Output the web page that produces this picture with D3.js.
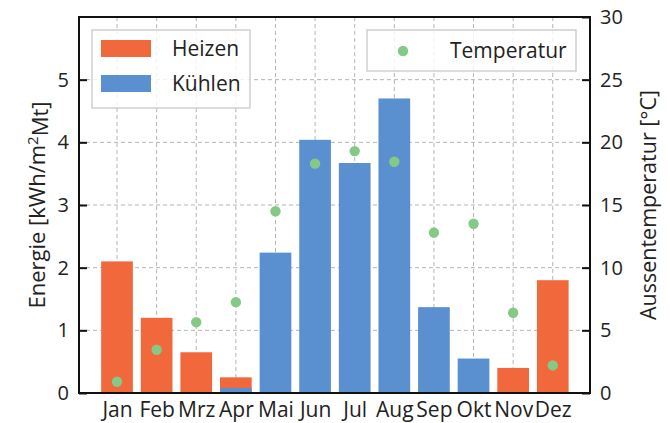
<!DOCTYPE html>
<html>
<head>
<meta charset="utf-8">
<script src="https://cdn.jsdelivr.net/npm/d3@7"></script>
<style>
  body { margin: 0; background: #fff; }
  text { font-family: "Open Sans", sans-serif; fill: #222; }
</style>
</head>
<body>
<div id="chart"></div>
<script>
"use strict";

/* chart data */
const months   = ["Jan", "Feb", "Mrz", "Apr", "Mai", "Jun", "Jul", "Aug", "Sep", "Okt", "Nov", "Dez"];
const heizen   = [2.1, 1.2, 0.65, 0.25, 0, 0, 0, 0, 0, 0, 0.4, 1.8];
const kuehlen  = [0, 0, 0, 0.08, 2.24, 4.04, 3.67, 4.7, 1.37, 0.55, 0, 0];
const temperatur = [0.9, 3.45, 5.65, 7.25, 14.5, 18.3, 19.3, 18.45, 12.8, 13.5, 6.4, 2.2];
const energyTicks = [0, 1, 2, 3, 4, 5];
const tempTicks   = [0, 5, 10, 15, 20, 25, 30];

const width = 670, height = 423;
const margin = { left: 79, right: 80, top: 17, bottom: 30 };
const plotRight = width - margin.right;
const plotBottom = height - margin.bottom;

const colHeizen = "#f0683c", colKuehlen = "#5b90d0", colTemp = "#86c986";

const svg = d3.select("#chart").append("svg")
  .attr("width", width)
  .attr("height", height);

/* scales */
const x = d3.scaleLinear()
  .domain([-0.96, 11.94])
  .range([margin.left, plotRight]);
const barWidth = (x(1) - x(0)) * 0.8;

const yLeft = d3.scaleLinear().domain([0, 6]).range([plotBottom, margin.top]);
const yRight = d3.scaleLinear().domain([0, 30]).range([plotBottom, margin.top]);

/* grid */
const grid = svg.append("g")
  .attr("stroke", "#b5b5b5")
  .attr("stroke-width", 1)
  .attr("stroke-dasharray", "4,3");

grid.selectAll(".vgrid")
  .data(months)
  .enter().append("line")
  .attr("x1", (d, i) => x(i)).attr("x2", (d, i) => x(i))
  .attr("y1", margin.top).attr("y2", plotBottom);

grid.selectAll(".hgrid")
  .data(energyTicks.slice(1))
  .enter().append("line")
  .attr("x1", margin.left).attr("x2", plotRight)
  .attr("y1", d => yLeft(d)).attr("y2", d => yLeft(d));

/* bars */
svg.selectAll(".heizen")
  .data(heizen)
  .enter().append("rect")
  .attr("class", "heizen")
  .attr("x", (d, i) => x(i) - barWidth / 2)
  .attr("y", d => yLeft(d))
  .attr("width", barWidth)
  .attr("height", d => plotBottom - yLeft(d))
  .attr("fill", colHeizen);

svg.selectAll(".kuehlen")
  .data(kuehlen)
  .enter().append("rect")
  .attr("class", "kuehlen")
  .attr("x", (d, i) => x(i) - barWidth / 2)
  .attr("y", d => yLeft(d))
  .attr("width", barWidth)
  .attr("height", d => plotBottom - yLeft(d))
  .attr("fill", colKuehlen);

/* temperature dots */
svg.selectAll(".temp")
  .data(temperatur)
  .enter().append("circle")
  .attr("class", "temp")
  .attr("cx", (d, i) => x(i))
  .attr("cy", d => yRight(d))
  .attr("r", 5.2)
  .attr("fill", colTemp);

/* axes */
const leftAxis = svg.append("g")
  .attr("transform", `translate(${margin.left},0)`)
  .call(d3.axisLeft(yLeft).tickValues(energyTicks).tickFormat(d3.format("d")).tickSizeInner(-8).tickSizeOuter(0).tickPadding(10));

const rightAxis = svg.append("g")
  .attr("transform", `translate(${plotRight},0)`)
  .call(d3.axisRight(yRight).tickValues(tempTicks).tickFormat(d3.format("d")).tickSizeInner(-8).tickSizeOuter(0).tickPadding(10));

const bottomAxis = svg.append("g")
  .attr("transform", `translate(0,${plotBottom})`)
  .call(d3.axisBottom(x).tickValues(d3.range(12)).tickFormat(i => months[i]).tickSize(0).tickPadding(0));

[leftAxis, rightAxis, bottomAxis].forEach(a => {
  a.select(".domain").remove();
  a.selectAll("line").attr("stroke", "#111").attr("stroke-width", 2);
  a.selectAll("text").style("font-size", "20px").attr("fill", "#222");
});
bottomAxis.selectAll("text").attr("dy", null).attr("y", 24).style("font-size", "21px");

/* frame */
svg.append("rect")
  .attr("x", margin.left).attr("y", margin.top)
  .attr("width", plotRight - margin.left)
  .attr("height", plotBottom - margin.top)
  .attr("fill", "none")
  .attr("stroke", "#111")
  .attr("stroke-width", 2);

/* axis titles */
const leftTitle = svg.append("text")
  .attr("transform", `translate(45,${(margin.top + plotBottom) / 2}) rotate(-90)`)
  .attr("text-anchor", "middle")
  .style("font-size", "22px");
leftTitle.append("tspan").text("Energie [kWh/m");
leftTitle.append("tspan").attr("dy", "-0.45em").style("font-size", "15px").text("2");
leftTitle.append("tspan").attr("dy", "0.45em").text("Mt]");

svg.append("text")
  .attr("transform", `translate(656,${(margin.top + plotBottom) / 2}) rotate(-90)`)
  .attr("text-anchor", "middle")
  .style("font-size", "21.5px")
  .text("Aussentemperatur [°C]");

/* legend: bars */
const legendBars = svg.append("g");
legendBars.append("rect")
  .attr("x", 92).attr("y", 30).attr("width", 158).attr("height", 78)
  .attr("fill", "#fff").attr("fill-opacity", 0.8)
  .attr("stroke", "#d0d0d0").attr("stroke-width", 1.5);

const legendItems = [{ label: "Heizen", color: colHeizen }, { label: "Kühlen", color: colKuehlen }];
legendBars.selectAll(".swatch")
  .data(legendItems)
  .enter().append("rect")
  .attr("x", 101)
  .attr("y", (d, i) => 40 + i * 35)
  .attr("width", 50).attr("height", 17)
  .attr("fill", d => d.color);
legendBars.selectAll(".legendText")
  .data(legendItems)
  .enter().append("text")
  .attr("x", 172)
  .attr("y", (d, i) => 56 + i * 35)
  .style("font-size", "21px")
  .text(d => d.label);

/* legend: temperature */
const legendTemp = svg.append("g");
legendTemp.append("rect")
  .attr("x", 367).attr("y", 30).attr("width", 209).attr("height", 41)
  .attr("fill", "#fff").attr("fill-opacity", 0.8)
  .attr("stroke", "#d0d0d0").attr("stroke-width", 1.5);
legendTemp.append("circle")
  .attr("cx", 403).attr("cy", 51).attr("r", 5.2)
  .attr("fill", colTemp);
legendTemp.append("text")
  .attr("x", 450).attr("y", 58)
  .style("font-size", "21px")
  .text("Temperatur");
</script>
</body>
</html>
